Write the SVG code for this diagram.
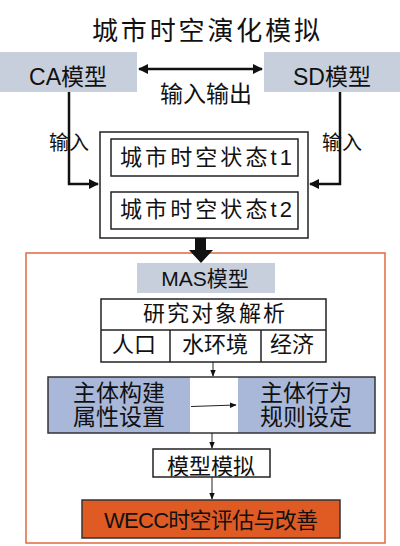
<svg xmlns="http://www.w3.org/2000/svg" width="400" height="546" viewBox="0 0 400 546">
<defs>
<style>
text{font-family:"Liberation Sans","Noto Sans CJK SC",sans-serif;fill:#111;text-anchor:middle}
.gray{fill:#c8cfdc;stroke:none}
.box{fill:#fff;stroke:#222;stroke-width:1.5}
.blue{fill:#a9b7d9;stroke:none}
.thick{fill:none;stroke:#111;stroke-width:2.5}
.thin{fill:none;stroke:#222;stroke-width:1}
</style>
<marker id="ah" viewBox="0 0 10 10" refX="9" refY="5" markerWidth="4" markerHeight="4" orient="auto-start-reverse" markerUnits="strokeWidth"><path d="M0,0 L10,5 L0,10 z" fill="#111"/></marker>
<marker id="as" viewBox="0 0 10 10" refX="9" refY="5" markerWidth="7" markerHeight="7" orient="auto" markerUnits="strokeWidth"><path d="M0,1 L10,5 L0,9 z" fill="#111"/></marker>
</defs>
<rect width="400" height="546" fill="#fff"/>
<text id="title" x="206" y="40" font-size="26" textLength="228" lengthAdjust="spacing">城市时空演化模拟</text>

<g id="ca"><rect class="gray" x="0" y="52" width="137" height="40"/><text x="68" y="85" font-size="23">CA模型</text></g>
<g id="sd"><rect class="gray" x="264" y="52" width="136" height="40"/><text x="332" y="85" font-size="23">SD模型</text></g>
<g id="io-label"><text x="206" y="102" font-size="23">输入输出</text></g>

<g id="states">
<rect class="box" x="100" y="132" width="208" height="106"/>
<g id="t1"><rect class="box" x="111" y="139" width="187" height="37"/><text x="206" y="165" font-size="22" textLength="172" lengthAdjust="spacing">城市时空状态t1</text></g>
<g id="t2"><rect class="box" x="111" y="192" width="187" height="37"/><text x="206" y="217" font-size="22" textLength="172" lengthAdjust="spacing">城市时空状态t2</text></g>
</g>

<g id="mas-frame"><rect x="26" y="253" width="359" height="290" fill="none" stroke="#e06a40" stroke-width="1.5"/></g>
<g id="mas"><rect class="gray" x="137" y="263" width="138" height="30"/><text x="205" y="286" font-size="21">MAS模型</text></g>

<g id="analysis">
<rect class="box" x="101" y="299" width="225" height="63"/>
<line x1="101" y1="330" x2="326" y2="330" stroke="#222" stroke-width="1.5"/>
<line x1="170" y1="330" x2="170" y2="362" stroke="#222" stroke-width="1.5"/>
<line x1="261" y1="330" x2="261" y2="362" stroke="#222" stroke-width="1.5"/>
<text x="214" y="321" font-size="22" textLength="142" lengthAdjust="spacing">研究对象解析</text>
<text x="134" y="352" font-size="22">人口</text>
<text x="215" y="352" font-size="22">水环境</text>
<text x="292" y="352" font-size="22">经济</text>
</g>

<g id="agent">
<rect class="blue" x="48" y="377" width="142" height="56"/>
<rect class="blue" x="238" y="377" width="137" height="56"/>
<rect x="48" y="377" width="327" height="56" fill="none" stroke="#333" stroke-width="1.5"/>
<text x="119" y="401" font-size="23">主体构建</text>
<text x="119" y="425" font-size="23">属性设置</text>
<text x="306" y="401" font-size="23">主体行为</text>
<text x="306" y="425" font-size="23">规则设定</text>
</g>

<g id="sim"><rect class="box" x="153" y="449" width="117" height="28"/><text x="211" y="474" font-size="22">模型模拟</text></g>
<g id="wecc"><rect x="82" y="500" width="258" height="38" fill="#e05a24" stroke="#333" stroke-width="1.5"/><text x="211" y="528" font-size="22" textLength="214" lengthAdjust="spacing">WECC时空评估与改善</text></g>

<g id="connectors">
<line class="thick" x1="139" y1="69" x2="262" y2="69" marker-start="url(#ah)" marker-end="url(#ah)"/>
<polyline class="thick" points="69,92 69,184 98,184" marker-end="url(#ah)"/>
<polyline class="thick" points="340,92 340,184 310,184" marker-end="url(#ah)"/>
<path d="M195,238 H206 V250 H213 L201,263 L189,250 H195 Z" fill="#111"/>
<line class="thin" x1="213" y1="362" x2="213" y2="376" marker-end="url(#as)"/>
<line class="thin" x1="191" y1="406.5" x2="236" y2="405" marker-end="url(#as)"/>
<line class="thin" x1="212" y1="433" x2="212" y2="448" marker-end="url(#as)"/>
<line class="thin" x1="212" y1="477" x2="212" y2="499" marker-end="url(#as)"/>
<text x="69" y="150" font-size="20">输入</text>
<text x="342" y="150" font-size="20">输入</text>
</g>
</svg>
